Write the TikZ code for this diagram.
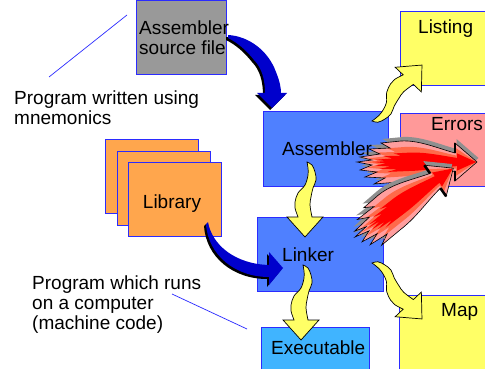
\documentclass[tikz,border=0pt]{standalone}
\usepackage{fontspec}
\setmainfont{Liberation Sans}
\usetikzlibrary{positioning}

\definecolor{srcgray}{HTML}{999999}
\definecolor{toolblue}{HTML}{4F80FF}
\definecolor{exeblue}{HTML}{40B4FF}
\definecolor{liborange}{HTML}{FFA64D}
\definecolor{outyellow}{HTML}{FFFF66}
\definecolor{errpink}{HTML}{FF9999}
\definecolor{edgeblue}{HTML}{2B2BFF}
\definecolor{flowblue}{HTML}{0000CC}
\definecolor{flamered}{HTML}{FF0000}
\definecolor{flamemid}{HTML}{FF6A4A}
\definecolor{flamepink}{HTML}{FF9E9E}
\definecolor{flameshadow}{HTML}{8F8F8F}

\newcommand{\boxfont}{\fontsize{19}{20}\selectfont}

% outline of the flame arrow, tail at the origin, tip at (120,0)
\newcommand{\flamepath}{(120,0) -- (98,19) -- (98,9)
  .. controls (80,14) and (62,22) .. (44,21)
  -- (24,19) -- (33,14) -- (12,13) -- (23,8) -- (3,5) -- (15,2) -- (0,0)
  -- (15,-3) -- (3,-8) -- (20,-10) -- (8,-15) -- (28,-16) -- (17,-22) -- (42,-20)
  .. controls (62,-19) and (80,-12) .. (98,-9) -- (98,-19) -- cycle}

\tikzset{
  wavyarrow/.pic={
    \begin{scope}[y=1pt]
      \filldraw[fill=outyellow, draw=black, line width=0.7pt]
        plot[smooth, tension=0.6] coordinates
          {(0,0) (3,5) (10,8) (18,9) (26,6) (35,4) (43,3) (55,5)}
        -- (55,16) -- (75,-2) -- (55,-20)
        -- plot[smooth, tension=0.6] coordinates
          {(55,-9) (46,-12) (40,-12) (31,-9) (23,-2) (13,1) (6,1) (0,0)}
        -- cycle;
    \end{scope}
  },
  flamearrow/.pic={
    \begin{scope}[y=1pt]
      \fill[flameshadow, shift={(1.5,4)}] \flamepath;
      \fill[flamepink] \flamepath;
      \fill[flamemid, shift={(114,0)}, xscale=0.93, yscale=0.72, shift={(-114,0)}] \flamepath;
      \fill[flamered, shift={(114,0)}, xscale=0.86, yscale=0.45, shift={(-114,0)}] \flamepath;
      \draw[line width=0.6pt] \flamepath;
      \draw[line width=2.6pt] (98,19) -- (98,9) (98,-9) -- (98,-19);
    \end{scope}
  }
}

\begin{document}
\begin{tikzpicture}[
  x=1pt, y=-1pt,
  box/.style={draw=edgeblue, line width=0.8pt, rectangle, inner sep=0pt, anchor=north west},
  txt/.style={inner sep=0pt, anchor=north west, font=\boxfont, align=left},
  callout/.style={edgeblue, line width=0.7pt},
  bluearrow/.style={fill=flowblue,
    preaction={fill=black, transform canvas={shift={(-2pt,-2pt)}}}}
]
  \useasboundingbox (0,0) rectangle (485,369);
  \clip (0,0) rectangle (485,369);
  \fill[white] (0,0) rectangle (485,369);

  % --- boxes ---
  \node[box, fill=srcgray, minimum width=90pt, minimum height=74pt] (src) at (136,0) {};
  \node[box, fill=liborange, minimum width=93pt, minimum height=74pt] (lib3) at (105,139) {};
  \node[box, fill=liborange, minimum width=93pt, minimum height=74pt] (lib2) at (117,151) {};
  \node[box, fill=liborange, minimum width=93pt, minimum height=74pt] (lib) at (128,162) {};
  \node[box, fill=toolblue, minimum width=125pt, minimum height=75pt] (asm) at (263,111) {};
  \node[box, fill=toolblue, minimum width=126pt, minimum height=74pt] (lnk) at (257,217) {};
  \node[box, fill=exeblue, minimum width=108pt, minimum height=48pt] (exe) at (261,327) {};
  \node[box, fill=outyellow, minimum width=90pt, minimum height=74pt] (lst) at (400,11) {};
  \node[box, fill=errpink, minimum width=90pt, minimum height=73pt] (err) at (400,113) {};
  \node[box, fill=outyellow, minimum width=90pt, minimum height=80pt] (map) at (399,295) {};

  % --- callout lines ---
  \coordinate (srcNote) at (127,15);
  \coordinate (mnemNote) at (49,77);
  \coordinate (codeNote) at (172,294);
  \coordinate (exeNote) at (247,329);
  \draw[callout] (srcNote) -- (mnemNote);
  \draw[callout] (codeNote) -- (exeNote);

  % --- blue arrows: source -> assembler, library -> linker ---
  \fill[bluearrow] (228,35) .. controls (248,36) and (268,50) .. (276,72)
    .. controls (280,82) and (281,88) .. (281,93) -- (287,93) -- (272,108)
    -- (257,93) -- (265,93) .. controls (265,80) and (262,68) .. (254,60)
    .. controls (246,50) and (238,43) .. (228,38) -- cycle;
  \fill[bluearrow] (208,222) .. controls (212,245) and (235,264) .. (269,265)
    -- (269,252) -- (283,268) -- (269,285) -- (269,277)
    .. controls (235,277) and (208,255) .. (206,224) -- cycle;

  % --- error flames ---
  \pic at (357,162) {flamearrow};
  \pic[rotate=35] at (355,237) {flamearrow};

  % --- yellow output arrows ---
  \pic[rotate=46.7, yscale=-1] at (372,121) {wavyarrow};
  \pic[rotate=-90] at (307,162) {wavyarrow};
  \pic[rotate=-90] at (303,265) {wavyarrow};
  \pic[rotate=-46.7] at (372,263) {wavyarrow};

  % --- texts ---
  \node[txt] (srcText) at (139,21) {Assembler\\source file};
  \node[txt] (mnemText) at (14,91) {Program written using\\mnemonics};
  \node[txt, anchor=north] (libText) at (172,195) {Library};
  \node[txt] (asmText) at (282,142) {Assembler};
  \node[txt] (lnkText) at (282,248) {Linker};
  \node[txt] (exeText) at (271,341) {Executable};
  \node[txt] (lstText) at (418,20) {Listing};
  \node[txt] (errText) at (431,117) {Errors};
  \node[txt] (mapText) at (441,303) {Map};
  \node[txt] (codeText) at (32,276) {Program which runs\\on a computer\\(machine code)};
\end{tikzpicture}
\end{document}
